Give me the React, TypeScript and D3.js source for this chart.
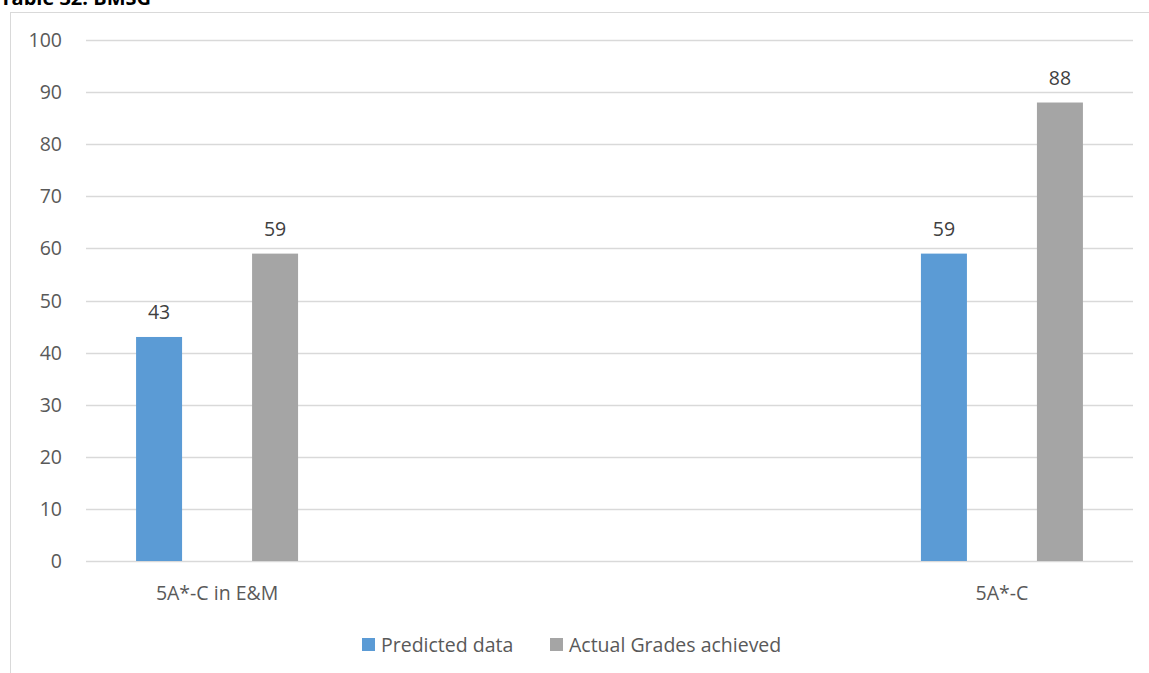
import React from "react";
import * as d3 from "d3";

const categories = ["5A*-C in E&M", "5A*-C"];
const seriesNames = ["Predicted data", "Actual Grades achieved"];
const predicted = [43, 59];
const actual = [59, 88];
const yTicks = [0, 10, 20, 30, 40, 50, 60, 70, 80, 90, 100];
const colors = ["#5B9BD5", "#A5A5A5"];

const W = 1149;
const H = 673;
const FONT = "'Open Sans', sans-serif";
const FS = 19.5;

export default function App() {
  const left = 86, right = 1133, top = 40, bottom = 561;
  const y = d3.scaleLinear().domain([0, 100]).range([bottom, top]);
  const x = d3.scalePoint<string>().domain(categories).range([left, right]).padding(0.167);
  const barW = 46;
  const offset = 58;
  const series = [predicted, actual];

  return (
    <svg width={W} height={H} style={{ position: "absolute", left: 0, top: 0, background: "#fff" }}>
      <text x={0} y={5} fontFamily={FONT} fontWeight="bold" fontSize={20} fill="#000">Table 32: BMSG</text>
      <line x1={10.5} y1={12} x2={10.5} y2={H} stroke="#D9D9D9" strokeWidth={1} />
      <line x1={10} y1={12.5} x2={W} y2={12.5} stroke="#D9D9D9" strokeWidth={1} />
      {yTicks.map((t) => (
        <g key={t}>
          <line x1={left} x2={right} y1={Math.round(y(t)) + 0.5} y2={Math.round(y(t)) + 0.5} stroke="#D9D9D9" strokeWidth={1.3} />
          <text x={62} y={y(t)} dy="0.36em" textAnchor="end" fontFamily={FONT} fontSize={FS} fill="#595959">{t}</text>
        </g>
      ))}
      {categories.map((c, ci) => (
        <g key={c}>
          {series.map((s, si) => {
            const cx = (x(c) as number) + (si === 0 ? -offset : offset);
            return (
              <g key={si}>
                <rect x={cx - barW / 2} y={y(s[ci])} width={barW} height={y(0) - y(s[ci])} fill={colors[si]} />
                <text x={cx} y={y(s[ci]) - 17.5} textAnchor="middle" fontFamily={FONT} fontSize={FS} fill="#404040">{s[ci]}</text>
              </g>
            );
          })}
          <text x={x(c) as number} y={600} textAnchor="middle" fontFamily={FONT} fontSize={FS} fill="#595959">{c}</text>
        </g>
      ))}
      {seriesNames.map((n, i) => {
        const lx = i === 0 ? 362 : 550;
        return (
          <g key={n}>
            <rect x={lx} y={638} width={13} height={13} fill={colors[i]} />
            <text x={lx + 19} y={652} fontFamily={FONT} fontSize={FS} fill="#595959">{n}</text>
          </g>
        );
      })}
    </svg>
  );
}
